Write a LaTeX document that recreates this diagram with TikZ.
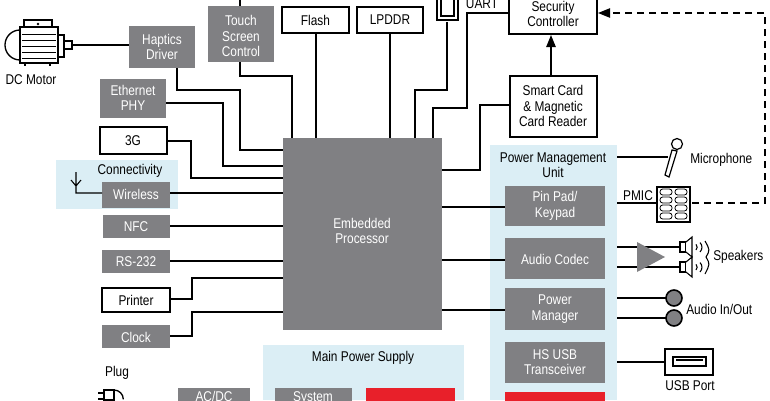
\documentclass[tikz,border=0pt]{standalone}
\usepackage{fontspec}
\setmainfont{Liberation Sans}[FakeStretch=0.84]
\usetikzlibrary{arrows.meta}
\definecolor{gbox}{HTML}{808083}
\definecolor{lblue}{HTML}{DBEEF5}
\definecolor{red1}{HTML}{E8202A}
\begin{document}
\begin{tikzpicture}[x=0.75pt,y=-0.75pt,font=\fontsize{10.6}{11.6}\selectfont,
  wb/.style={draw=black,line width=1.2pt,fill=white},
  ln/.style={line width=1.1pt},
  lbl/.style={align=center,inner sep=0pt},
  wl/.style={lbl,text=white}]
\path[use as bounding box] (0,0) rectangle (770,400);
% regions
\fill[lblue] (56,160) rectangle (178,209);
\fill[lblue] (263,345) rectangle (464,400);
\fill[lblue] (490,145) rectangle (617,400);
% boxes
\fill[gbox] (129,26) rectangle (195,68); \node[wl] (haptics) at (162,47) {Haptics\\Driver};
\fill[gbox] (208,6) rectangle (274,62); \node[wl] (touch) at (241,36) {Touch\\Screen\\Control};
\draw[wb] (282,7) rectangle (349,33); \node[lbl] (flash) at (315.5,20) {Flash};
\draw[wb] (357,7) rectangle (423,33); \node[lbl] (lpddr) at (390,20) {LPDDR};
\draw[wb] (509,-5) rectangle (597,34); \node[lbl] (sec) at (553,14) {Security\\Controller};
\draw[wb] (510,76) rectangle (597,137); \node[lbl] (smart) at (553,106) {Smart Card\\\& Magnetic\\Card Reader};
\fill[gbox] (283,138) rectangle (442,330); \node[wl] (proc) at (362,231) {Embedded\\Processor};
\fill[gbox] (100,79) rectangle (166,118); \node[wl] (eth) at (133,98) {Ethernet\\PHY};
\draw[wb] (100,127) rectangle (167,154); \node[lbl] (g3) at (133,141) {3G};
\node[lbl] (conn) at (130,171) {Connectivity};
\fill[gbox] (102,182) rectangle (170,208); \node[wl] (wl) at (136,194) {Wireless};
\fill[gbox] (103,215) rectangle (170,238); \node[wl] (nfc) at (136,227) {NFC};
\fill[gbox] (102,250) rectangle (170,273); \node[wl] (rs) at (136,262) {RS-232};
\draw[wb] (102,288) rectangle (170,312); \node[lbl] (prn) at (136,300) {Printer};
\fill[gbox] (102,325) rectangle (170,348); \node[wl] (clk) at (136,337) {Clock};
\node[lbl] (mps) at (363,358) {Main Power Supply};
\fill[gbox] (275,388) rectangle (352,405); \node[wl,anchor=north] (sys) at (313,391) {System};
\fill[red1] (366,388) rectangle (455,405);
\node[lbl] (plug) at (117,373) {Plug};
\fill[gbox] (178,388) rectangle (250,405); \node[wl,anchor=north] (acdc) at (214,391) {AC/DC};
\node[lbl] (pmu) at (553,165) {Power Management\\Unit};
\fill[gbox] (505,186) rectangle (605,226); \node[wl] (pin) at (555,206) {Pin Pad/\\Keypad};
\fill[gbox] (505,238) rectangle (605,279); \node[wl] (codec) at (555,259) {Audio Codec};
\fill[gbox] (505,288) rectangle (605,330); \node[wl] (pm) at (555,309) {Power\\Manager};
\fill[gbox] (505,342) rectangle (605,383); \node[wl] (usbt) at (555,362) {HS USB\\Transceiver};
\fill[red1] (505,392) rectangle (605,405);
% labels right
\node[lbl,anchor=west] (mic) at (690,160) {Microphone};
\node[lbl] (pmic) at (638,196) {PMIC};
\node[lbl,anchor=west] (spk) at (713,257) {Speakers};
\node[lbl,anchor=west] (aio) at (686,309) {Audio In/Out};
\node[lbl] (usbp) at (690,386) {USB Port};
\node[lbl] (dcm) at (31,80) {DC Motor};
\node[lbl] (uart) at (482,4) {UART};
% connectors
\draw[ln] (240,0) -- (240,6);
\draw[ln] (240,62) -- (240,76) -- (292,76) -- (292,138);
\draw[ln] (177,68) -- (177,90) -- (240,90) -- (240,150) -- (283,150);
\draw[ln] (166,103) -- (223,103) -- (223,166) -- (283,166);
\draw[ln] (167,141) -- (191,141) -- (191,178) -- (283,178);
\draw[ln] (170,193) -- (283,193);
\draw[ln] (170,226) -- (283,226);
\draw[ln] (170,261) -- (283,261);
\draw[ln] (170,299) -- (192,299) -- (192,278) -- (283,278);
\draw[ln] (170,336) -- (192,336) -- (192,312) -- (283,312);
\draw[ln] (316,33) -- (316,138);
\draw[ln] (390,33) -- (390,138);
\draw[ln] (447,22) -- (447,90) -- (415,90) -- (415,138);
\draw[ln] (509,13) -- (467,13) -- (467,108) -- (433,108) -- (433,138);
\draw[ln] (510,105) -- (480,105) -- (480,170) -- (442,170);
\draw[ln,-{Triangle[length=9pt,width=7pt]}] (551,76) -- (551,35);
\draw[line width=1pt,dash pattern=on 5pt off 4pt,-{Triangle[length=9pt,width=7pt]}] (692,203) -- (765,203) -- (765,13) -- (598,13);
\draw[ln] (442,207) -- (505,207);
\draw[ln] (442,260) -- (505,260);
\draw[ln] (442,310) -- (505,310);
\draw[ln] (617,157) -- (668,157);
\draw[ln] (617,203) -- (657,203);
\draw[ln] (617,247) -- (680,247);
\draw[ln] (617,267) -- (680,267);
\draw[ln] (617,298) -- (666,298);
\draw[ln] (617,318) -- (666,318);
\draw[ln] (617,362) -- (665,362);
\draw[ln] (72,45) -- (129,45);
% antenna
\draw[line width=0.8pt] (76,172) -- (76,193) -- (102,193) (71,180) -- (76,186) -- (81,180);
% UART connector icon
\draw[line width=0.8pt,fill=white] (437,-2) -- (437,20) -- (458,20) -- (458,-2);
\draw[line width=0.8pt] (441,-2) -- (441,16) -- (454,16) -- (454,-2);
% microphone
\draw[line width=0.9pt,fill=white] (665,175) -- (672,150) -- (677,151) -- (669,177) -- cycle;
\draw[line width=0.9pt,fill=white] (677,144) circle (5.5);
% keypad
\draw[line width=0.8pt,fill=white] (657,187) rectangle (690,222);
\foreach \r in {192,200,208,216}{\draw[line width=0.6pt,rounded corners=2pt] (660,\r-3) rectangle (672,\r+3); \draw[line width=0.6pt,rounded corners=2pt] (675,\r-3) rectangle (687,\r+3);}
% amplifier
\fill[gbox] (637,242) -- (665,257) -- (637,272) -- cycle;
% speakers
\foreach \y in {247,267}{
 \draw[line width=0.8pt,fill=white] (680,\y-5) rectangle (686,\y+5);
 \draw[line width=0.8pt,fill=white] (686,\y-5) -- (692,\y-10) -- (692,\y+10) -- (686,\y+5);
 \draw[line width=0.8pt] (696,\y+3) arc[start angle=-45,end angle=45,radius=3pt];
 \draw[line width=0.8pt] (700,\y+5) arc[start angle=-45,end angle=45,radius=5pt];}
\draw[line width=0.8pt] (705,241) .. controls (710,250) .. (706,257) .. controls (710,264) .. (705,274);
% audio jacks
\foreach \y in {298,318}{\draw[line width=1.2pt,fill=gbox] (674,\y) circle (8);}
% USB port
\draw[line width=1.2pt,fill=white] (665,349) rectangle (713,375);
\draw[line width=1pt] (673,357) rectangle (706,366);
\draw[line width=0.8pt] (676,360) -- (703,360);
% DC motor
\draw[line width=1pt,fill=white] (20,30) arc[start angle=90,end angle=270,radius=11.25pt] -- cycle;
\draw[line width=1pt,fill=white] (20,27) rectangle (58,63);
\draw[line width=1pt,fill=white] (24,20) rectangle (52,27);
\fill (38,24) circle (1.3);
\foreach \y in {34,40,46,52,58}{\draw[line width=0.6pt] (22,\y) -- (56,\y);}
\draw[line width=1pt,fill=white] (58,35) rectangle (64,57);
\draw[line width=1pt,fill=white] (64,41) rectangle (72,49);
\draw[line width=1pt] (25,63) -- (25,66) (50,63) -- (50,66);
% plug icon
\draw[line width=1pt,fill=white] (104,390) rectangle (114,400);
\draw[line width=1pt] (114,390) arc[start angle=90,end angle=0,radius=7pt];
\draw[line width=1pt] (98,393) -- (104,393) (98,399) -- (104,399);
\end{tikzpicture}
\end{document}
